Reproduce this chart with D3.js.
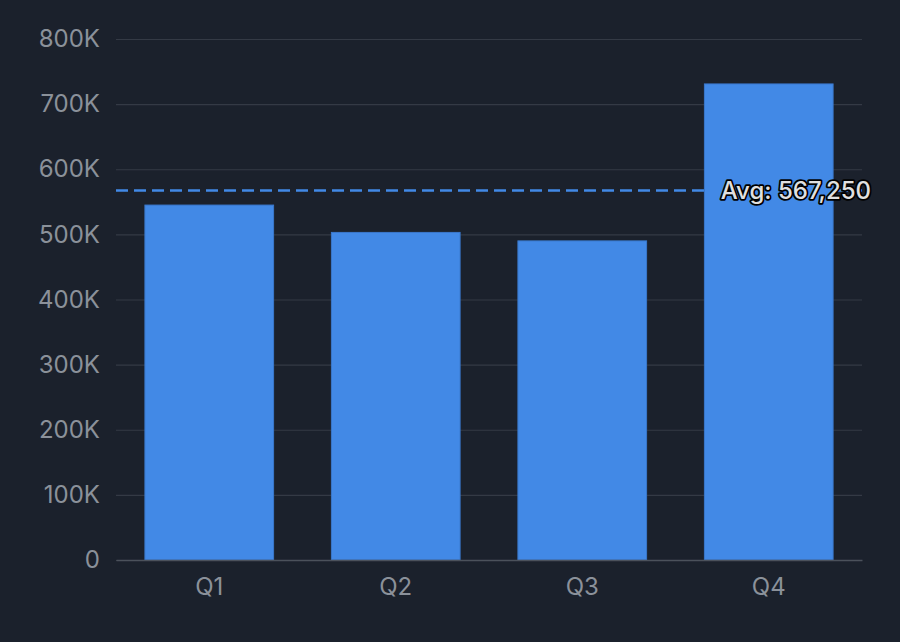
<!DOCTYPE html>
<html>
<head>
<meta charset="utf-8">
<script src="https://cdn.jsdelivr.net/npm/d3@7"></script>
<style>
  html, body { margin: 0; padding: 0; background: #1b212c; }
  text { font-family: Inter, "Noto Sans", sans-serif; }
</style>
</head>
<body>
<div id="chart"></div>
<script>
// data
const quarters = ["Q1", "Q2", "Q3", "Q4"];
const revenue = [545000, 503000, 490000, 731000];
const yTicks = [0, 100000, 200000, 300000, 400000, 500000, 600000, 700000, 800000];

const margin = { top: 39, right: 38, bottom: 82, left: 116 };
const width = 900 - margin.left - margin.right;
const height = 642 - margin.top - margin.bottom;

const svg = d3.select("#chart").append("svg")
    .attr("width", width + margin.left + margin.right)
    .attr("height", height + margin.top + margin.bottom)
    .style("display", "block")
    .style("background", "#1b212c")
    .append("g")
    .attr("transform", "translate(" + margin.left + "," + margin.top + ")");

const data = quarters.map((q, i) => ({ q: q, v: revenue[i] }));
const avg = d3.mean(revenue);

// scales
const x = d3.scaleBand()
    .domain(quarters)
    .range([0, width])
    .paddingInner(0.31)
    .paddingOuter(0.155);

const y = d3.scaleLinear()
    .domain([0, 800000])
    .range([height, 0]);

// grid + y labels
const yAxis = d3.axisLeft(y)
    .tickValues(yTicks)
    .tickSize(-width)
    .tickPadding(16)
    .tickFormat(d => d === 0 ? "0" : (d / 1000) + "K");

const yg = svg.append("g").call(yAxis);
yg.select(".domain").remove();
yg.selectAll(".tick line").attr("stroke", "#343a45").attr("stroke-width", 1.2);
yg.selectAll(".tick text")
    .attr("fill", "#8b919a")
    .attr("font-size", 24)
    .attr("font-family", "Inter, sans-serif");

// average line (behind bars)
svg.append("line")
    .attr("x1", 0)
    .attr("x2", width)
    .attr("y1", y(avg))
    .attr("y2", y(avg))
    .attr("stroke", "#4289e6")
    .attr("stroke-width", 2.5)
    .attr("stroke-dasharray", "12,6");

// bars
svg.selectAll(".bar")
    .data(data)
    .enter().append("rect")
    .attr("class", "bar")
    .attr("x", d => x(d.q))
    .attr("y", d => y(d.v))
    .attr("width", x.bandwidth())
    .attr("height", d => height - y(d.v))
    .attr("fill", "#4289e6")
    .attr("stroke", "#3a78cc")
    .attr("stroke-width", 1);

// x axis
const xAxis = d3.axisBottom(x).tickSize(0).tickPadding(18);
const xg = svg.append("g")
    .attr("transform", `translate(0, ${height})`)
    .call(xAxis);
xg.select(".domain").attr("stroke", "#4b515b").attr("stroke-width", 1.5);
xg.selectAll(".tick text")
    .attr("fill", "#8b919a")
    .attr("font-size", 24)
    .attr("font-family", "Inter, sans-serif");

// avg label
svg.append("text")
    .attr("x", width + 9)
    .attr("y", y(avg))
    .attr("dy", "0.35em")
    .attr("text-anchor", "end")
    .attr("font-size", 24)
    .attr("font-weight", 500)
    .attr("fill", "#e0e0e0")
    .attr("stroke", "#000")
    .attr("stroke-width", 3.5)
    .attr("stroke-linejoin", "round")
    .attr("paint-order", "stroke")
    .text("Avg: " + d3.format(",")(avg));
</script>
</body>
</html>
